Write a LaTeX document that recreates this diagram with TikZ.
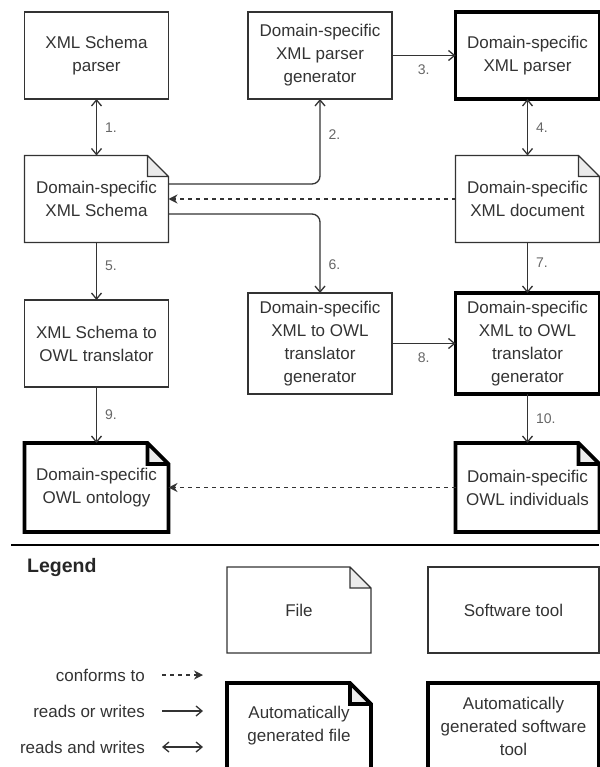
\documentclass[tikz,border=0pt]{standalone}
\usepackage{fontspec}
\setmainfont{Liberation Sans}
\usetikzlibrary{arrows.meta}

\definecolor{linegray}{HTML}{333333}
\definecolor{foldgray}{HTML}{EBEBEB}
\definecolor{labelgray}{HTML}{666666}

\newcommand{\boxfont}{\fontsize{17}{23}\selectfont}
\newcommand{\lblfont}{\fontsize{14}{16}\selectfont}
\newlength{\foldsz}
\setlength{\foldsz}{21pt}

% outline of a file node: box with a folded top right corner
\newcommand{\notefile}[2][thinline]{%
  \fill[foldgray] ([xshift=-\foldsz]#2.north east) -- ([xshift=-\foldsz,yshift=-\foldsz]#2.north east) -- ([yshift=-\foldsz]#2.north east) -- cycle;
  \draw[#1] (#2.north west) -- ([xshift=-\foldsz]#2.north east) -- ([yshift=-\foldsz]#2.north east) -- (#2.south east) -- (#2.south west) -- cycle
    ([xshift=-\foldsz]#2.north east) -- ([xshift=-\foldsz,yshift=-\foldsz]#2.north east) -- ([yshift=-\foldsz]#2.north east);
}

\tikzset{
  thinline/.style={draw=linegray, line width=1.3pt},
  thickline/.style={draw=black, line width=3.6pt},
  toolbox/.style={rectangle, thinline, text=linegray, font=\boxfont, align=center,
    minimum width=144pt, minimum height=87pt, inner sep=2pt, outer sep=0pt},
  autotool/.style={toolbox, thickline},
  filebox/.style={toolbox, draw=none},
  lbl/.style={text=labelgray, font=\lblfont, inner sep=0pt},
  legtxt/.style={text=linegray, font=\boxfont, inner sep=0pt},
  flow/.style={draw=linegray, line width=1.3pt, -{Straight Barb[length=6pt,width=10pt]}},
  both/.style={flow, {Straight Barb[length=6pt,width=10pt]}-{Straight Barb[length=6pt,width=10pt]}},
  conform/.style={draw=linegray, line width=1.3pt, dash pattern=on 4pt off 4pt,
    -{Stealth[length=9pt,width=9pt,inset=3pt]}},
}

\begin{document}
\begin{tikzpicture}[x=1pt,y=-1pt]
  \useasboundingbox (0,0) rectangle (599,767);

  % tools, top row
  \node[toolbox] (xsdparser) at (96.5,55.5) {XML Schema\\parser};
  \node[toolbox] (parsergen) at (320,55.5) {Domain-specific\\XML parser\\generator};
  \node[autotool] (parser) at (527.5,55.5) {Domain-specific\\XML parser};

  % input files
  \node[filebox] (schema) at (96.5,199) {Domain-specific\\XML Schema};
  \node[filebox] (doc) at (527.5,199) {Domain-specific\\XML document};

  % translators
  \node[toolbox] (xsd2owl) at (96.5,343.5) {XML Schema to\\OWL translator};
  \node[toolbox, minimum height=101pt] (trgen) at (320,343.5) {Domain-specific\\XML to OWL\\translator\\generator};
  \node[autotool, minimum height=101pt] (tr) at (527.5,343.5) {Domain-specific\\XML to OWL\\translator\\generator};

  % output files
  \node[filebox, minimum height=89pt] (onto) at (96.5,487.5) {Domain-specific\\OWL ontology};
  \node[filebox, minimum height=89pt] (indiv) at (527.5,487.5) {Domain-specific\\OWL individuals};

  \notefile{schema}
  \notefile{doc}
  \notefile[thickline]{onto}
  \notefile[thickline]{indiv}

  \draw[both] (xsdparser) -- node[lbl, right=8pt] {1.} (schema);
  \draw[flow, rounded corners=8pt] ([yshift=15pt]schema.east) -| node[lbl, right=8pt, pos=0.79] {2.} (parsergen.south);
  \draw[flow] (parsergen) -- node[lbl, below=9pt] {3.} (parser);
  \draw[both] (parser) -- node[lbl, right=8pt] {4.} (doc);
  \draw[conform] (doc) -- (schema); % document conforms to schema
  \draw[flow] (schema) -- node[lbl, right=8pt, pos=0.4] {5.} (xsd2owl);
  \draw[flow, rounded corners=8pt] ([yshift=-15pt]schema.east) -| node[lbl, right=8pt, pos=0.82] {6.} (trgen.north);
  \draw[flow] (doc) -- node[lbl, right=8pt, pos=0.4] {7.} (tr);
  \draw[flow] (trgen) -- node[lbl, below=9pt] {8.} (tr);
  \draw[flow] (xsd2owl) -- node[lbl, right=8pt] {9.} (onto);
  \draw[flow] (tr) -- node[lbl, right=8pt] {10.} (indiv);
  \draw[conform] (indiv) -- (onto); % individuals conform to ontology

  % legend
  \coordinate (sepL) at (11,545);
  \coordinate (sepR) at (599,545);
  \draw[black, line width=1.3pt] (sepL) -- (sepR);
  \node[anchor=west, inner sep=0pt, text=black!85, font=\bfseries\fontsize{19.5}{22}\selectfont] (legend) at (27,567) {Legend};

  \node[filebox, minimum height=86pt] (lfile) at (299,610) {File};
  \node[toolbox, minimum width=171pt, minimum height=86pt] (ltool) at (513.5,610) {Software tool};
  \node[filebox, minimum height=86pt] (lautofile) at (299,726) {Automatically\\generated file};
  \node[autotool, minimum width=171pt, minimum height=86pt] (lautotool) at (513.5,726) {Automatically\\generated software\\tool};
  \notefile{lfile}
  \notefile[thickline]{lautofile}

  \node[legtxt, anchor=east] (conftxt) at (145,675) {conforms to};
  \node[legtxt, anchor=east] (rwtxt) at (145,711) {reads or writes};
  \node[legtxt, anchor=east] (rawtxt) at (145,747) {reads and writes};
  \coordinate (confA) at (162,675);
  \coordinate (confB) at (203,675);
  \coordinate (rwA) at (162,711);
  \coordinate (rwB) at (203,711);
  \coordinate (rawA) at (162,747);
  \coordinate (rawB) at (203,747);
  \draw[conform] (confA) -- (confB);
  \draw[flow] (rwA) -- (rwB);
  \draw[both] (rawA) -- (rawB);
\end{tikzpicture}
\end{document}
